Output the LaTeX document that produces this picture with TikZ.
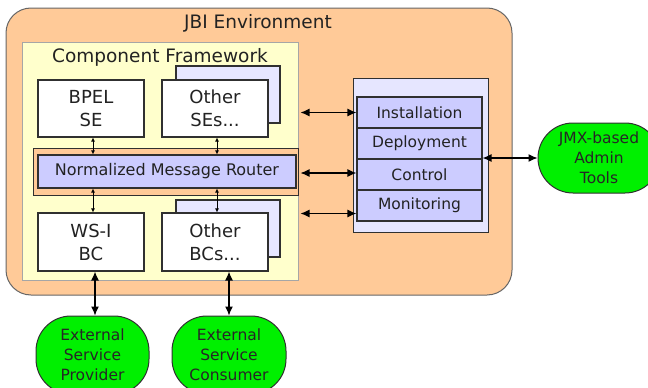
\documentclass[tikz,border=0pt]{standalone}
\usepackage{fontspec}
\setmainfont{DejaVu Sans}
\usetikzlibrary{arrows.meta}
\definecolor{envorange}{HTML}{FFCA98}
\definecolor{cfyellow}{HTML}{FFFFCC}
\definecolor{lav}{HTML}{CCCCFF}
\definecolor{lavlight}{HTML}{E6E6FF}
\definecolor{grn}{HTML}{00F000}
\definecolor{txt}{HTML}{222222}
\definecolor{edge}{HTML}{303030}
\tikzset{
  envbox/.style={draw=gray!80!black, line width=1pt, fill=envorange, rounded corners=25, inner sep=0pt},
  cfbox/.style={draw=gray!70, line width=1pt, fill=cfyellow, inner sep=0pt},
  bandbox/.style={draw=edge, line width=1pt, fill=envorange, inner sep=0pt},
  compbox/.style={draw=edge, line width=1.1pt, fill=white, inner sep=0pt, align=center,
    text=txt, font=\fontsize{18}{23}\selectfont, minimum width=106, minimum height=57},
  shadowbox/.style={draw=edge, line width=1.1pt, fill=lavlight, inner sep=0pt, minimum width=104, minimum height=57},
  nmrbox/.style={draw=edge, line width=1.1pt, fill=lav, inner sep=0pt, text=txt, font=\fontsize{16}{19}\selectfont},
  panelbox/.style={draw=edge, line width=1pt, fill=lavlight, inner sep=0pt},
  itembox/.style={draw=edge, line width=1.1pt, fill=lav, inner sep=0pt, text=txt,
    font=\fontsize{15.5}{19}\selectfont, minimum width=125, minimum height=31},
  extnode/.style={draw=edge, line width=1pt, fill=grn, rounded corners=35, inner sep=0pt, align=center,
    text=black!85, font=\fontsize{15.5}{20}\selectfont},
  titletext/.style={text=txt, font=\fontsize{18.5}{22}\selectfont, inner sep=0pt, anchor=base},
  smallarr/.style={line width=1pt, {Latex[length=4pt,width=4pt]}-{Latex[length=4pt,width=4pt]}},
  bigarr/.style={line width=1.2pt, {Latex[length=9pt,width=8pt]}-{Latex[length=9pt,width=8pt]}},
}
\begin{document}
\begin{tikzpicture}[x=1pt,y=-1pt]
\useasboundingbox (0,0) rectangle (648,388);
% JBI environment
\node[envbox, minimum width=506, minimum height=287] (jbi) at (259,151.5) {};
\node[titletext] (jbilabel) at (258,28) {JBI Environment};
% Component framework
\node[cfbox, minimum width=276, minimum height=238] (cf) at (160,161) {};
\node[titletext] (cflabel) at (160,62) {Component Framework};
% band and NMR
\node[bandbox, minimum width=265, minimum height=47] (band) at (165.5,171.5) {};
\node[nmrbox, minimum width=258, minimum height=33] (nmr) at (167,171.5) {Normalized Message Router};
% service engines
\node[shadowbox] (seshadow) at (228,94.5) {};
\node[compbox] (bpel) at (91,108.5) {BPEL\\SE};
\node[compbox] (ose) at (215,108.5) {Other\\SEs...};
% binding components
\node[shadowbox] (bcshadow) at (228,228.5) {};
\node[compbox, minimum height=58] (wsi) at (91,242) {WS-I\\BC};
\node[compbox, minimum height=58] (obc) at (215,242) {Other\\BCs...};
% small arrows
\draw[smallarr] ([xshift=2]bpel.south) -- ([xshift=2]bpel.south |- nmr.north);
\draw[smallarr] ([xshift=2]ose.south) -- ([xshift=2]ose.south |- nmr.north);
\draw[smallarr] ([xshift=2]wsi.north |- nmr.south) -- ([xshift=2]wsi.north);
\draw[smallarr] ([xshift=2]obc.north |- nmr.south) -- ([xshift=2]obc.north);
% management panel
\node[panelbox, minimum width=135, minimum height=154] (panel) at (420.5,155) {};
\node[itembox] (inst) at (419.5,112.5) {Installation};
\node[itembox] (dep) at (419.5,143.5) {Deployment};
\node[itembox] (ctrl) at (419.5,174.5) {Control};
\node[itembox] (mon) at (419.5,205.5) {Monitoring};
\draw[bigarr] ([xshift=2]inst.west -| cf.east) -- (inst.west);
\draw[bigarr] ([xshift=2,yshift=1.5]ctrl.west -| cf.east) -- ([yshift=1.5]ctrl.west);
\draw[bigarr] ([xshift=2,yshift=-8]mon.west -| cf.east) -- ([yshift=-8]mon.west);
% external nodes
\node[extnode, minimum width=122, minimum height=70] (jmx) at (599,158) {JMX-based\\Admin\\Tools};
\node[extnode, minimum width=113, minimum height=78] (prov) at (92.5,355) {External\\Service\\Provider};
\node[extnode, minimum width=114, minimum height=78] (cons) at (229,355) {External\\Service\\Consumer};
\draw[bigarr] (jmx.west -| dep.east) -- (jmx.west);
\draw[bigarr] ([xshift=4]wsi.south) -- ([xshift=4]wsi.south |- prov.north);
\draw[bigarr] (cons.north |- obc.south) -- (cons.north);
\end{tikzpicture}
\end{document}
